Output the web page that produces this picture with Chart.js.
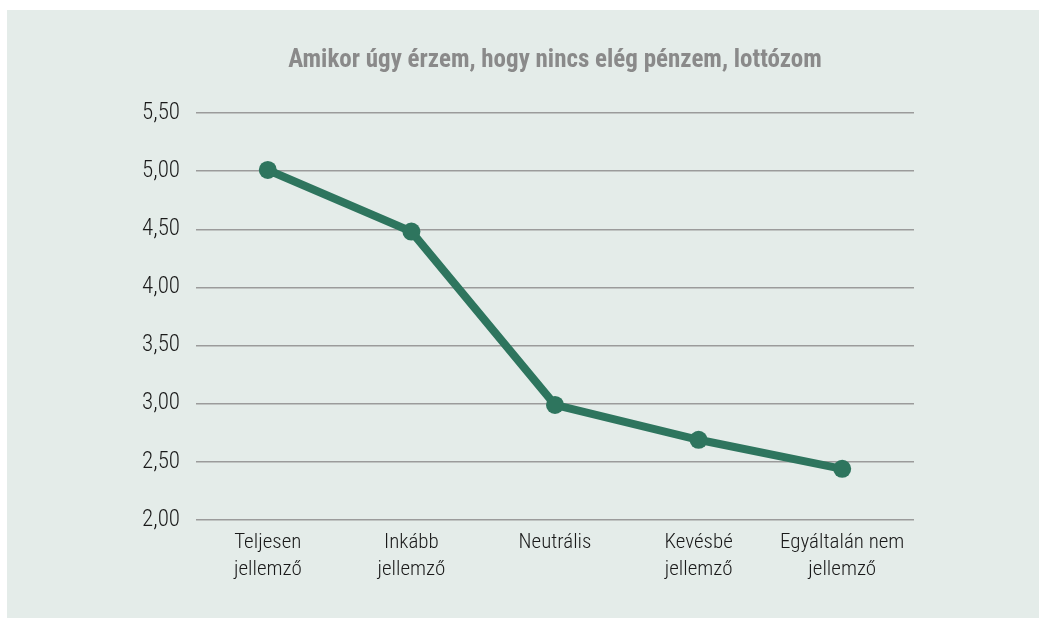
<!DOCTYPE html>
<html lang="hu">
<head>
<meta charset="utf-8">
<title>Amikor úgy érzem, hogy nincs elég pénzem, lottózom</title>
<script src="https://cdn.jsdelivr.net/npm/chart.js@4.4.1/dist/chart.umd.min.js"></script>
<style>
  html, body { margin: 0; padding: 0; background: #ffffff; }
  #panel {
    position: absolute; left: 7px; top: 10px;
    width: 1032px; height: 608px;
    background: #e4ece9;
  }
  #panel canvas { display: block; }
</style>
</head>
<body>
<div id="panel"><canvas id="chart" width="1032" height="608"></canvas></div>
<script>
// Answer categories (x axis)
const categories = [
  ['Teljesen', 'jellemző'],
  ['Inkább', 'jellemző'],
  'Neutrális',
  ['Kevésbé', 'jellemző'],
  ['Egyáltalán nem', 'jellemző']
];
// Mean agreement per category
const means = [5.01, 4.48, 2.99, 2.69, 2.44];
// Value axis range
const yMin = 2.0;
const yMax = 5.5;
const yStep = 0.5;

const fontFamily = '"Roboto Condensed", "Liberation Sans Narrow", "DejaVu Sans Condensed", "Arial Narrow", sans-serif';
const lineColor = '#2e755e';

new Chart(document.getElementById('chart'), {
  type: 'line',
  data: {
    labels: categories,
    datasets: [{
      data: means,
      borderColor: lineColor,
      backgroundColor: lineColor,
      borderWidth: 8,
      pointRadius: 9,
      pointHoverRadius: 9,
      pointBorderWidth: 0,
      tension: 0,
      fill: false
    }]
  },
  options: {
    responsive: false,
    animation: false,
    layout: { padding: { left: 0, right: 125, top: 0, bottom: 0 } },
    plugins: {
      legend: { display: false },
      tooltip: { enabled: false },
      title: {
        display: true,
        fullSize: false,
        text: 'Amikor úgy érzem, hogy nincs elég pénzem, lottózom',
        color: '#8a8a8a',
        font: { family: fontFamily, size: 25, weight: 'bold' },
        padding: { top: 36, bottom: 37 }
      }
    },
    scales: {
      x: {
        offset: true,
        grid: { display: false, drawTicks: false },
        border: { display: false },
        ticks: {
          color: '#1a1a1a',
          font: { family: fontFamily, size: 21, weight: 300, lineHeight: 1.25 },
          padding: 10,
          maxRotation: 0,
          autoSkip: false
        },
        afterFit(scale) { scale.height = 98; }
      },
      y: {
        min: yMin,
        max: yMax,
        grid: { color: '#9b9b9b', lineWidth: 1.5, drawTicks: false },
        border: { display: false },
        ticks: {
          stepSize: yStep,
          color: '#1a1a1a',
          font: { family: fontFamily, size: 23, weight: 300 },
          padding: 16,
          callback: v => Number(v).toFixed(2).replace('.', ',')
        },
        afterFit(scale) { scale.width = 189; }
      }
    }
  }
});
</script>
</body>
</html>
